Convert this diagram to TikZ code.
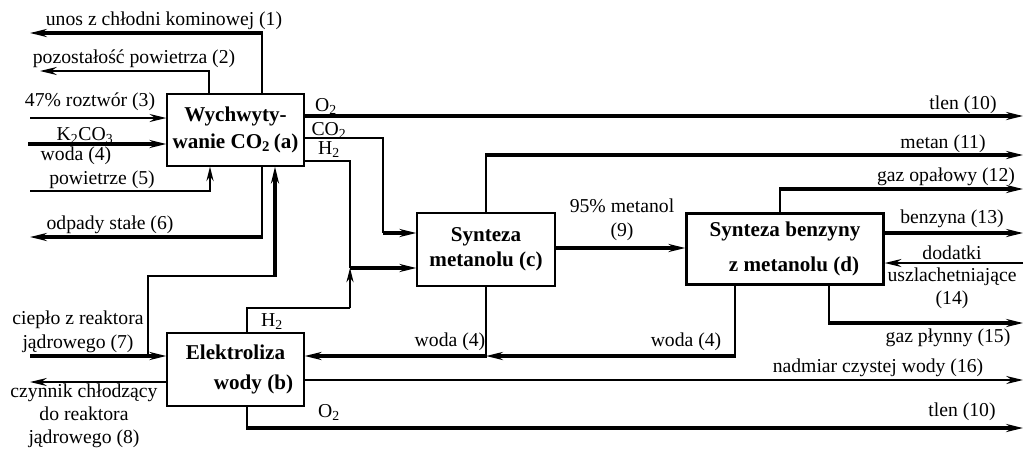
\documentclass[tikz,border=0pt]{standalone}
\usepackage{fontspec}
\setmainfont{Liberation Serif}
\usetikzlibrary{arrows.meta}
\begin{document}
\begin{tikzpicture}[x=0.025cm,y=-0.025cm,
  box/.style={draw, line width=0.9pt, inner sep=0pt, align=center,
    font=\fontsize{15}{18}\selectfont\bfseries},
  lbl/.style={inner sep=0pt, align=center, font=\fontsize{14}{17}\selectfont},
  thn/.style={line width=0.8pt},
  med/.style={line width=1.4pt},
  thk/.style={line width=2.2pt},
  arw/.style={-{Stealth[length=4.2mm,width=2mm,inset=1.4mm]}},
  sarw/.style={-{Stealth[length=3.6mm,width=1.8mm,inset=1.2mm]}}]
\useasboundingbox (0,0) rectangle (1029,450);

% boxes
\node[box, minimum width=3.425cm, minimum height=1.8cm] (a) at (235.5,130)
  {Wychwyty-\\[1pt]wanie CO\textsubscript{2}\,(a)};
\node[box, minimum width=3.425cm, minimum height=1.825cm] (b) at (235.5,369.5)
  {Elektroliza\\[3pt]\hspace*{0.9cm}wody (b)};
\node[box, minimum width=3.45cm, minimum height=1.825cm] (c) at (486,249.5)
  {Synteza\\metanolu (c)};
\node[box, minimum width=4.95cm, minimum height=1.8cm] (d) at (785,249)
  {Synteza benzyny\\[7pt]\hspace*{0.45cm}z metanolu (d)};
\draw[line width=0.5pt] ([shift={(2.2,2.2)}]d.north west) rectangle ([shift={(-2.2,-2.2)}]d.south east);

% coordinates
\coordinate (p1) at (262,33);  \coordinate (e1) at (30,33);
\coordinate (p2) at (209,71);  \coordinate (e2) at (40,71);
\coordinate (e3) at (30,118);
\coordinate (e4) at (28,144);
\coordinate (e5) at (30,191);  \coordinate (p5) at (210,191);
\coordinate (p6) at (262,237); \coordinate (e6) at (30,237);
\coordinate (e7) at (30,356);  \coordinate (j7) at (148,356);
\coordinate (q1) at (148,276); \coordinate (q2) at (275,276);
\coordinate (e8) at (30,382);
\coordinate (e10) at (1023,116);
\coordinate (k1) at (383,138); \coordinate (k2) at (383,233);
\coordinate (h1) at (350,161); \coordinate (h2) at (350,268);
\coordinate (h3) at (247,308); \coordinate (h4) at (350,308);
\coordinate (m1) at (486,155); \coordinate (m2) at (1023,155);
\coordinate (k9) at (620,248);
\coordinate (g1) at (780,189); \coordinate (g2) at (1023,189);
\coordinate (e13) at (1023,233);
\coordinate (e14) at (1023,263);
\coordinate (g3) at (829,323); \coordinate (g4) at (1023,323);
\coordinate (w1) at (735,356); \coordinate (w2) at (486,356);
\coordinate (e16) at (1023,380);
\coordinate (o1) at (247,428); \coordinate (o2) at (1023,428);

% connectors, left side
\draw[thn] (a.north -| p1) -- (p1);
\draw[thk,arw] ([xshift=0.4pt]p1) -- (e1);
\draw[thn] (a.north -| p2) -- (p2);
\draw[med,arw] ([xshift=0.4pt]p2) -- (e2);
\draw[med,arw] (e3) -- (a.west |- e3);
\draw[thk,arw] (e4) -- (a.west |- e4);
\draw[med] (e5) -- (p5);
\draw[med,sarw] ([yshift=-0.7pt]p5) -- (a.south -| p5);
\draw[thn] (a.south -| p6) -- (p6);
\draw[thk,arw] ([xshift=0.4pt]p6) -- (e6);
\draw[thk,arw] (e7) -- (b.west |- e7);
\draw[thn] (j7) -- (q1) -- (q2);
\draw[thk,arw] ([yshift=-0.4pt]q2) -- (a.south -| q2);
\draw[med,arw] (b.west |- e8) -- (e8);

% connectors, middle
\draw[thk,arw] (a.east |- e10) -- (e10);
\draw[thn] (a.east |- k1) -- (k1) -- (k2);
\draw[thk,arw] (k2) -- (c.west |- k2);
\draw[thn] (a.east |- h1) -- (h1) -- (h2);
\draw[thk,arw] (h2) -- (c.west |- h2);
\draw[thn] (b.north -| h3) -- (h3) -- (h4);
\draw[thn,sarw] (h4) -- (h2);
\draw[thn] (c.north) -- (m1);
\draw[thk,arw] ([xshift=-0.4pt]m1) -- (m2);
\draw[thk,arw] (c.east |- k9) -- (d.west |- k9);
\draw[thn] (c.south) -- (w2);
\draw[thk,arw] ([xshift=0.4pt]w2) -- (b.east |- w2);
\draw[med,arw] (b.east |- e16) -- (e16);
\draw[thn] (b.south -| o1) -- (o1);
\draw[thk,arw] ([xshift=-0.4pt]o1) -- (o2);

% connectors, right side
\draw[thn] (d.north -| g1) -- (g1);
\draw[thk,arw] ([xshift=-0.4pt]g1) -- (g2);
\draw[thk,arw] (d.east |- e13) -- (e13);
\draw[med,arw] (e14) -- (d.east |- e14);
\draw[thn] (d.south -| g3) -- (g3);
\draw[thk,arw] ([xshift=-0.4pt]g3) -- (g4);
\draw[thn] (d.south -| w1) -- (w1);
\draw[thk,arw] ([xshift=0.4pt]w1) -- (w2);

% labels
\node[lbl] (l1) at (164,21) {unos z chłodni kominowej (1)};
\node[lbl] (l2) at (134,59) {pozostałość powietrza (2)};
\node[lbl] (l3) at (90,102) {47\% roztwór (3)};
\node[lbl] (l3b) at (85,136) {K\textsubscript{2}CO\textsubscript{3}};
\node[lbl] (l4) at (76,156) {woda (4)};
\node[lbl] (l5) at (102,180) {powietrze (5)};
\node[lbl] (l6) at (110,225) {odpady stałe (6)};
\node[lbl] (l7) at (78,332) {ciepło z reaktora\\jądrowego (7)};
\node[lbl, font=\fontsize{14}{16.5}\selectfont] (l8) at (84,416) {czynnik chłodzący\\do reaktora\\jądrowego (8)};
\node[lbl] (lo2) at (326,106) {O\textsubscript{2}};
\node[lbl] (lco2) at (329,130) {CO\textsubscript{2}};
\node[lbl] (lh2) at (329,150) {H\textsubscript{2}};
\node[lbl] (lh2b) at (272,322) {H\textsubscript{2}};
\node[lbl] (lo2b) at (329,412) {O\textsubscript{2}};
\node[lbl] (l10) at (963,105) {tlen (10)};
\node[lbl] (l11) at (943,144) {metan (11)};
\node[lbl] (l12) at (946,177) {gaz opałowy (12)};
\node[lbl] (l9) at (622,220) {95\% metanol\\(9)};
\node[lbl] (l13) at (952,219) {benzyna (13)};
\node[lbl, font=\fontsize{14}{16}\selectfont] (l14) at (952,277) {dodatki\\uszlachetniające\\(14)};
\node[lbl] (l15) at (948,338) {gaz płynny (15)};
\node[lbl] (lw1) at (450,342) {woda (4)};
\node[lbl] (lw2) at (686,342) {woda (4)};
\node[lbl] (l16) at (878,368) {nadmiar czystej wody (16)};
\node[lbl] (l10b) at (962,412) {tlen (10)};
\end{tikzpicture}
\end{document}
